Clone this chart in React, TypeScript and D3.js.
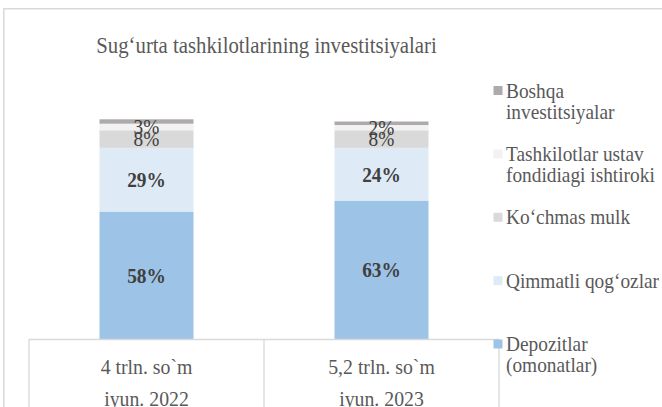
import React from "react";
import * as d3 from "d3";

const categories = ["4 trln. so`m|iyun. 2022", "5,2 trln. so`m|iyun. 2023"];
const seriesNames = [
  "Depozitlar (omonatlar)",
  "Qimmatli qog‘ozlar",
  "Ko‘chmas mulk",
  "Tashkilotlar ustav fondidiagi ishtiroki",
  "Boshqa investitsiyalar",
];
const depozitlar = [58, 63];
const qimmatli = [29, 24];
const kochmas = [8, 8];
const tashkilotlar = [3, 2.4];
const boshqa = [2, 1.6];
const labelShown = [true, true, true, true, false];
const labelBold = [true, true, false, false, false];
const colors = ["#9dc3e6", "#deebf7", "#d9d9d9", "#f2f2f2", "#aeaaaa"];
const legendLines = [
  ["Depozitlar", "(omonatlar)"],
  ["Qimmatli qog‘ozlar"],
  ["Ko‘chmas mulk"],
  ["Tashkilotlar ustav", "fondidiagi ishtiroki"],
  ["Boshqa", "investitsiyalar"],
];

const W = 662;
const H = 407;
const FONT = "Liberation Serif, Times New Roman, DejaVu Serif, serif";
const GRID = "#d9d9d9";
const SQ = 0.9;

function T(props: {
  x: number;
  y: number;
  k?: number;
  anchor?: string;
  size: number;
  fill: string;
  weight?: string;
  baseline?: string;
  children: React.ReactNode;
}) {
  const k = props.k ?? SQ;
  return (
    <text
      transform={`translate(${props.x},${props.y}) scale(${k},1)`}
      textAnchor={props.anchor ?? "start"}
      fontSize={props.size}
      fill={props.fill}
      fontWeight={props.weight ?? "normal"}
      dominantBaseline={props.baseline ?? "alphabetic"}
      style={{ fontFamily: FONT }}
    >
      {props.children}
    </text>
  );
}

export default function App() {
  const values = [depozitlar, qimmatli, kochmas, tashkilotlar, boshqa];
  const rows = categories.map((c, i) => {
    const r: any = { cat: c };
    seriesNames.forEach((s, k) => (r[s] = values[k][i]));
    return r;
  });
  const stack = d3.stack<any>().keys(seriesNames)(rows);

  const x = d3
    .scaleBand<string>()
    .domain(categories)
    .range([29, 499])
    .paddingInner(0.6)
    .paddingOuter(0.3);
  const y = d3.scaleLinear().domain([0, 100]).range([339, 119.3]);
  const step = x.step();
  const legendPos = d3
    .scalePoint<number>()
    .domain(d3.range(seriesNames.length))
    .range([344, 90.5]);

  return (
    <svg
      width={W}
      height={H}
      style={{ position: "absolute", left: 0, top: 0, background: "#fff", fontFamily: FONT }}
    >
      <rect x={0} y={0} width={W} height={H} fill="#fff" />
      <line x1={3.8} x2={W} y1={8.7} y2={8.7} stroke={GRID} strokeWidth={1.5} />
      <line x1={3.8} x2={3.8} y1={8} y2={H} stroke={GRID} strokeWidth={1.5} />

      <T x={266.5} y={53} k={0.92} anchor="middle" size={22.6} fill="#595959">
        Sug‘urta tashkilotlarining investitsiyalari
      </T>

      {stack.map((layer, k) =>
        layer.map((d, i) => (
          <rect
            key={`${k}-${i}`}
            x={x(categories[i])}
            width={x.bandwidth()}
            y={y(d[1])}
            height={y(d[0]) - y(d[1])}
            fill={colors[k]}
          />
        ))
      )}

      {stack.map((layer, k) =>
        labelShown[k]
          ? layer.map((d, i) => (
              <T
                key={`l${k}-${i}`}
                x={(x(categories[i]) as number) + x.bandwidth() / 2}
                y={(y(d[0]) + y(d[1])) / 2}
                anchor="middle"
                baseline="central"
                size={21.5}
                weight={labelBold[k] ? "bold" : "normal"}
                fill="#404040"
              >
                {`${Math.round(values[k][i])}%`}
              </T>
            ))
          : null
      )}

      <line x1={29} x2={499} y1={339.5} y2={339.5} stroke={GRID} strokeWidth={1.3} />
      {[0, 1, 2].map((j) => (
        <line
          key={j}
          x1={29 + j * step}
          x2={29 + j * step}
          y1={339}
          y2={H}
          stroke={GRID}
          strokeWidth={1.3}
        />
      ))}
      {categories.map((c) => {
        const cx = (x(c) as number) + x.bandwidth() / 2;
        const [a, b] = c.split("|");
        return (
          <g key={c}>
            <T x={cx} y={373.5} anchor="middle" size={22} fill="#595959">
              {a}
            </T>
            <T x={cx} y={405.5} anchor="middle" size={22} fill="#595959">
              {b}
            </T>
          </g>
        );
      })}

      {legendLines.map((lines, k) => {
        const ly = legendPos(k) as number;
        return (
          <g key={k}>
            <rect x={493.5} y={ly - 4.5} width={9} height={9} fill={colors[k]} />
            {lines.map((t, j) => (
              <T key={j} x={506} y={ly + 7.2 + j * 20.8} size={21.5} fill="#595959">
                {t}
              </T>
            ))}
          </g>
        );
      })}
    </svg>
  );
}
